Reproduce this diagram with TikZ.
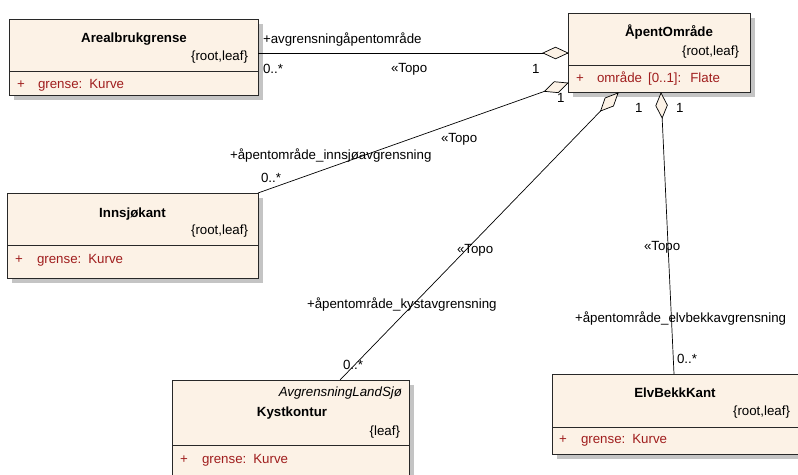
\documentclass[tikz,border=0pt]{standalone}
\usepackage{fontspec}
\setmainfont{Liberation Sans}
\usetikzlibrary{calc,shadows}
\definecolor{boxfill}{RGB}{252,242,230}
\definecolor{boxline}{RGB}{40,40,40}
\definecolor{attr}{RGB}{160,30,30}
\definecolor{shadowc}{RGB}{196,196,196}
\newcommand\umldia[2]{%
  \coordinate (dm) at ($(#1)!12.5pt!(#2)$);
  \filldraw[fill=boxfill, draw=black, line width=0.7pt]
    (#1) -- ($(dm)!5.8pt!90:(#2)$) -- ($(#1)!25pt!(#2)$) -- ($(dm)!5.8pt!-90:(#2)$) -- cycle;}
\begin{document}
\begin{tikzpicture}[x=1pt,y=-1pt,
  every node/.style={font=\fontsize{13.3}{15}\selectfont, inner sep=0pt, outer sep=0pt},
  classbox/.style={draw=boxline, fill=boxfill, line width=1pt, anchor=north west,
    drop shadow={shadow xshift=5pt, shadow yshift=-5pt, fill=shadowc, opacity=1}},
  cname/.style={font=\fontsize{13.3}{15}\selectfont\bfseries, anchor=base},
  ctag/.style={anchor=base east},
  cital/.style={font=\fontsize{13.3}{15}\selectfont\itshape, anchor=base east},
  attrtxt/.style={text=attr, anchor=base west},
  lbl/.style={anchor=base west},
  assoc/.style={draw=black, line width=0.7pt},
  divider/.style={draw=boxline, line width=1pt}
]
\clip (0,0) rectangle (798,474);
\fill[white] (0,0) rectangle (798,474);

% ---------- class boxes ----------
\node[classbox, minimum width=249pt, minimum height=76pt] (areal) at (9,19) {};
\node[classbox, minimum width=182pt, minimum height=79pt] (apent) at (568,13) {};
\node[classbox, minimum width=251pt, minimum height=85pt] (inn) at (7,193) {};
\node[classbox, minimum width=237pt, minimum height=120pt] (kyst) at (172,380) {};
\node[classbox, minimum width=262pt, minimum height=80pt] (elv) at (552,374) {};

\draw[divider] ($(areal.north west)+(0,52)$) -- ($(areal.north east)+(0,52)$);
\draw[divider] ($(apent.north west)+(0,52)$) -- ($(apent.north east)+(0,52)$);
\draw[divider] ($(inn.north west)+(0,52)$) -- ($(inn.north east)+(0,52)$);
\draw[divider] ($(kyst.north west)+(0,65)$) -- ($(kyst.north east)+(0,65)$);
\draw[divider] ($(elv.north west)+(0,53)$) -- ($(elv.north east)+(0,53)$);

% Arealbrukgrense
\node[cname] (arealN) at (134,42) {Arealbrukgrense};
\node[ctag] (arealT) at (248,60) {\{root,leaf\}};
\node[attrtxt] (arealP) at (17,88) {+};
\node[attrtxt] (arealA) at (38,88) {grense:\hspace{7pt}Kurve};

% ÅpentOmråde
\node[cname] (apentN) at (669,36) {ÅpentOmråde};
\node[ctag] (apentT) at (739,55) {\{root,leaf\}};
\node[attrtxt] (apentP) at (576,82) {+};
\node[attrtxt] (apentA) at (597,82) {område\hspace{6pt}[0..1]:\hspace{9pt}Flate};

% Innsjøkant
\node[cname] (innN) at (132.5,217) {Innsjøkant};
\node[ctag] (innT) at (248,234) {\{root,leaf\}};
\node[attrtxt] (innP) at (15,263) {+};
\node[attrtxt] (innA) at (37,263) {grense:\hspace{7pt}Kurve};

% Kystkontur
\node[cital] (kystS) at (402,396) {AvgrensningLandSjø};
\node[cname] (kystN) at (292,416) {Kystkontur};
\node[ctag] (kystT) at (400,435) {\{leaf\}};
\node[attrtxt] (kystP) at (180,463) {+};
\node[attrtxt] (kystA) at (202,463) {grense:\hspace{7pt}Kurve};

% ElvBekkKant
\node[cname] (elvN) at (675,397) {ElvBekkKant};
\node[ctag] (elvT) at (790,415) {\{root,leaf\}};
\node[attrtxt] (elvP) at (559,443) {+};
\node[attrtxt] (elvA) at (581,443) {grense:\hspace{7pt}Kurve};

% ---------- connector end points ----------
\coordinate (s1) at ($(areal.north east)+(0,34)$);
\coordinate (e1) at ($(apent.north west)+(0,40)$);
\coordinate (s2) at (inn.north east);
\coordinate (e2) at ($(apent.north west)+(0,70)$);
\coordinate (s3) at ($(kyst.north west)+(168,0)$);
\coordinate (e3) at ($(apent.south west)+(50,1)$);
\coordinate (s4) at ($(elv.north west)+(122,0)$);
\coordinate (e4) at ($(apent.south west)+(93,1)$);

% labels drawn before diamonds (the "1" near e2 is partly hidden)
\node[lbl] (l1r) at (263,43) {+avgrensningåpentområde};
\node[lbl] (l1m) at (263,73) {0..*};
\node[lbl] (l1s) at (391,72) {«Topo};
\node[lbl] (l1o) at (532,73) {1};

\node[lbl] (l2r) at (230,159) {+åpentområde\_innsjøavgrensning};
\node[lbl] (l2m) at (261,182) {0..*};
\node[lbl] (l2s) at (441,142) {«Topo};
\node[lbl] (l2o) at (557,102) {1};

\node[lbl] (l3r) at (307,308) {+åpentområde\_kystavgrensning};
\node[lbl] (l3m) at (343,369) {0..*};
\node[lbl] (l3s) at (457,253) {«Topo};
\node[lbl] (l3o) at (635,112) {1};

\node[lbl] (l4r) at (575,322) {+åpentområde\_elvbekkavgrensning};
\node[lbl] (l4m) at (677,363) {0..*};
\node[lbl] (l4s) at (644,250) {«Topo};
\node[lbl] (l4o) at (676,112) {1};

% ---------- connectors ----------
\draw[assoc] (s1) -- (e1);
\draw[assoc] (s2) -- (e2);
\draw[assoc] (s3) -- (e3);
\draw[assoc] (s4) -- (e4);

\umldia{e1}{s1}
\umldia{e2}{s2}
\umldia{e3}{s3}
\umldia{e4}{s4}
\end{tikzpicture}
\end{document}
